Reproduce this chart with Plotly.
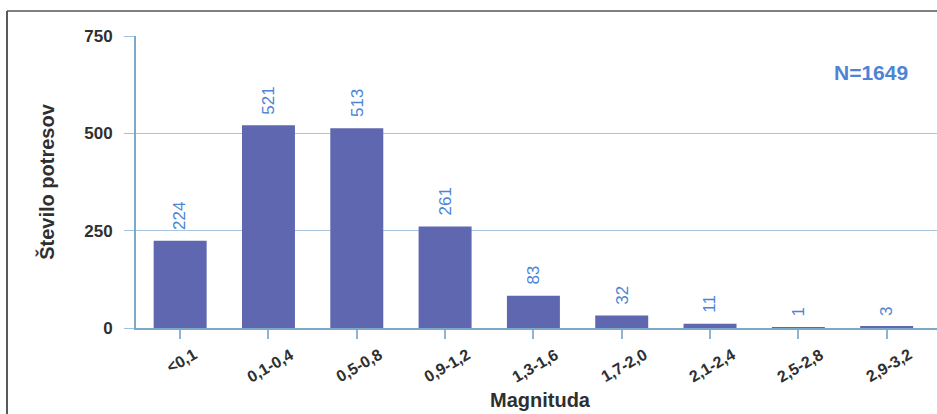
import plotly.graph_objects as go

categories = ["<0,1", "0,1-0,4", "0,5-0,8", "0,9-1,2", "1,3-1,6", "1,7-2,0", "2,1-2,4", "2,5-2,8", "2,9-3,2"]
counts = [224, 521, 513, 261, 83, 32, 11, 1, 3]
y_ticks = [0, 250, 500, 750]
n_label = "N=1649"

W, H = 937, 414
ml, mr, mt, mb = 136, 0, 36, 86
pw = W - ml - mr
ph = H - mt - mb

FONT = "Liberation Sans, Arial"
LABEL_BLUE = "#4d84d4"
DARK = "#2f2f2f"

fig = go.Figure()
fig.add_trace(go.Bar(
    x=list(range(len(categories))), y=counts,
    marker=dict(color="#5f67b1", line=dict(width=0)),
    width=0.6,
    hoverinfo="x+y",
))

# value labels above bars (rotated)
for i, v in enumerate(counts):
    fig.add_annotation(
        x=i, y=v, xref="x", yref="y", text=str(v), textangle=-90,
        showarrow=False, xanchor="center", yanchor="bottom", yshift=10,
        borderpad=0,
        font=dict(family=FONT, size=17, color=LABEL_BLUE),
    )

# category tick labels (rotated, centred under ticks)
for i, c in enumerate(categories):
    fig.add_annotation(
        x=i, y=0, xref="x", yref="paper", text="<b>" + c + "</b>", textangle=-30,
        showarrow=False, xanchor="center", yanchor="top", yshift=-16, xshift=2,
        borderpad=0,
        font=dict(family=FONT, size=16, color=DARK),
    )

fig.update_layout(
    width=W, height=H,
    margin=dict(l=ml, r=mr, t=mt, b=mb, autoexpand=False),
    paper_bgcolor="white", plot_bgcolor="white",
    showlegend=False,
    font=dict(family=FONT, color=DARK),
)
fig.update_xaxes(
    range=[-0.5, 8.57],
    tickvals=list(range(len(categories))),
    showticklabels=False,
    ticks="outside", ticklen=9, tickcolor="#8fb4d2", tickwidth=2,
    showline=True, linecolor="#7ea8c8", linewidth=2,
    showgrid=False, zeroline=False,
)
fig.update_yaxes(
    range=[0, 750],
    tickvals=y_ticks,
    tickfont=dict(family=FONT, size=17, color=DARK, weight="bold"),
    ticks="outside", ticklen=10, tickcolor="#9fc0da", tickwidth=1,
    ticklabelstandoff=8,
    showline=True, linecolor="#7ea8c8", linewidth=2,
    showgrid=True, gridcolor="#a9c6de", gridwidth=1,
    zeroline=False,
    title=dict(text="<b>Število potresov</b>", font=dict(family=FONT, size=20, color=DARK), standoff=24),
)

# x-axis title
fig.add_annotation(
    text="<b>Magnituda</b>", xref="paper", yref="paper",
    x=(540 - ml) / pw, y=(mt + ph - 400) / ph, showarrow=False,
    xanchor="center", yanchor="middle",
    font=dict(family=FONT, size=20, color=DARK),
)

fig.add_annotation(
    text="<b>" + n_label + "</b>", xref="paper", yref="paper",
    x=(871 - ml) / pw, y=(mt + ph - 73) / ph, showarrow=False,
    xanchor="center", yanchor="middle",
    font=dict(family=FONT, size=21, color=LABEL_BLUE),
)

# outer frame: left and top edges (right/bottom fall outside the picture)
x_left = (7 - ml) / pw
y_top = (mt + ph - 11) / ph
y_bottom = (mt + ph - H) / ph
fig.add_shape(type="line", xref="paper", yref="paper",
              x0=x_left, y0=y_top, x1=x_left, y1=y_bottom,
              line=dict(color="#222222", width=1.5), layer="below")
fig.add_shape(type="line", xref="paper", yref="paper",
              x0=x_left, y0=y_top, x1=1.0, y1=y_top,
              line=dict(color="#555555", width=1.5), layer="below")

fig.write_html("out.html")
